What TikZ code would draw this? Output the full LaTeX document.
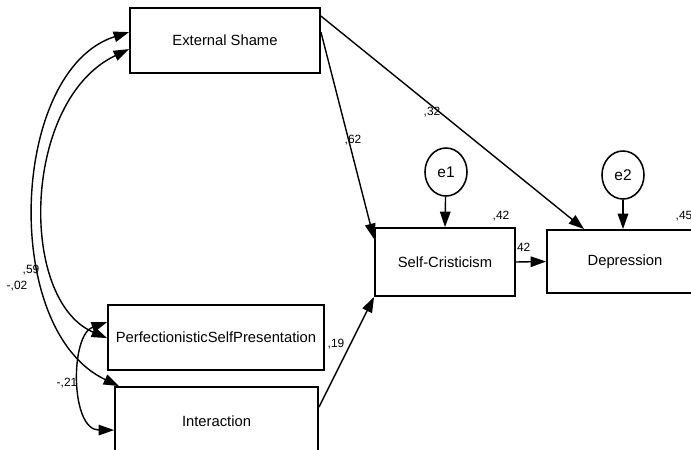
\documentclass[tikz,border=0pt]{standalone}
\usepackage{fontspec}
\setmainfont{Liberation Sans}
\usetikzlibrary{arrows.meta,shapes.geometric}
\begin{document}
\begin{tikzpicture}
[
    x=0.025cm, y=-0.025cm,
    var/.style={draw, line width=1.3pt, inner sep=1pt, font=\fontsize{10.5}{12}\selectfont},
    err/.style={draw, ellipse, line width=1.1pt, minimum width=1.05cm, minimum height=1.2cm, inner sep=0pt, font=\fontsize{11}{12}\selectfont},
    coef/.style={font=\fontsize{8.5}{9}\selectfont, inner sep=0pt},
    path/.style={line width=1pt, -{Triangle[length=11pt,width=7.5pt]}},
    cov/.style={line width=1pt, {Triangle[length=11pt,width=7.5pt]}-{Triangle[length=11pt,width=7.5pt]}},
]
\useasboundingbox (0,0) rectangle (691,449);
\node[var, minimum width=4.75cm, minimum height=1.625cm] (es) at (225,40.5) {External Shame};
\node[var, minimum width=5.4cm, minimum height=1.625cm] (psp) at (216,337.5) {PerfectionisticSelfPresentation};
\node[var, minimum width=5.075cm, minimum height=1.7cm] (int) at (216.5,421) {Interaction};
\node[var, minimum width=3.5cm, minimum height=1.7cm] (sc) at (445,262) {Self-Cristicism};
\node[var, minimum width=3.9cm, minimum height=1.575cm] (dep) at (625,261.5) {Depression};
\node[err] (e1) at (446,172) {e1};
\node[err] (e2) at (623,175) {e2};
% paths
\draw[path] ([yshift=-0.225cm]es.north east) -- ([xshift=0.95cm]dep.north west);
\draw[path] ([yshift=-0.625cm]es.north east) -- ([yshift=-0.3cm]sc.north west);
\draw[path] ([yshift=-0.525cm]int.north east) -- (sc.south west);
\draw[path] (e1) -- (sc.north);
\draw[path] (e2) -- (e2 |- dep.north);
\draw[path] (sc.east) -- (dep.west);
% covariances
\draw[cov] ([yshift=-0.625cm]es.north west) .. controls (10,70) and (0,330) .. ([xshift=0.125cm]int.north west);
\draw[cov] ([yshift=-1.05cm]es.north west) .. controls (22,100) and (18,300) .. ([yshift=-0.85cm]psp.north west);
\draw[cov] ([yshift=-0.45cm]psp.north west) .. controls (70,335) and (70,430) .. ([yshift=-1.1cm]int.north west);
% coefficients
\node[coef] (c62) at (353,140) {,62};
\node[coef] (c32) at (432,112) {,32};
\node[coef] (r1) at (501,216) {,42};
\node[coef] (c42) at (522,248) {,42};
\node[coef] (r2) at (684,216) {,45};
\node[coef] (c59) at (31,270) {,59};
\node[coef] (c02) at (17,286) {-,02};
\node[coef] (c21) at (67,383) {-,21};
\node[coef] (c19) at (336,344) {,19};
\end{tikzpicture}
\end{document}
